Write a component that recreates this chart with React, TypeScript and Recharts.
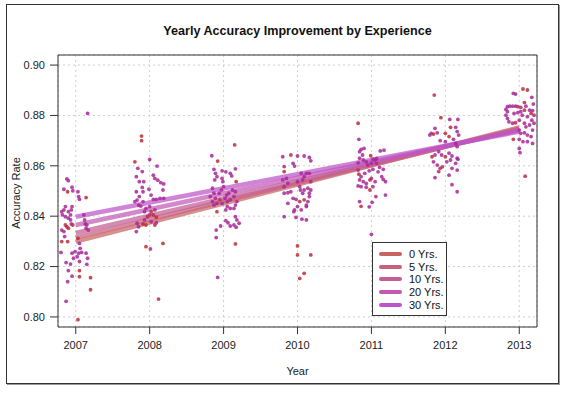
import React from "react";
import {
  CartesianGrid,
  ComposedChart,
  Line,
  ReferenceArea,
  Scatter,
  XAxis,
  YAxis,
} from "recharts";

// years on the x axis
const years = [2007, 2008, 2009, 2010, 2011, 2012, 2013];
const accuracyTicks = [0.8, 0.82, 0.84, 0.86, 0.88, 0.9];

// fitted lines per experience group: accuracy at 2007 and at 2013
const experience = ["0 Yrs.", "5 Yrs.", "10 Yrs.", "20 Yrs.", "30 Yrs."];
const fitStart = [0.8299, 0.8315, 0.8333, 0.8365, 0.8398];
const fitEnd = [0.8752, 0.8748, 0.8745, 0.874, 0.8736];
const lineColors = ["#c86464", "#c85f7c", "#c35e96", "#c25ab4", "#be55c8"];

// observations: [year jitter, accuracy]
const purple2007 = [
  [0.16, 0.8808], [-0.12, 0.8548], [-0.1, 0.8541], [-0.16, 0.8507], [-0.05, 0.8515],
  [-0.04, 0.8501], [0.03, 0.8497], [0.04, 0.8478], [0.05, 0.8467], [-0.14, 0.8438],
  [-0.16, 0.8425], [-0.19, 0.8418], [-0.18, 0.8405], [-0.1, 0.8418], [-0.07, 0.8405],
  [-0.05, 0.8438], [-0.06, 0.8425], [-0.14, 0.8398], [-0.1, 0.8392], [-0.07, 0.8385],
  [-0.12, 0.8358], [-0.19, 0.8345], [-0.16, 0.8339], [-0.06, 0.8369], [0.11, 0.8405],
  [0.12, 0.8385], [0.13, 0.8369], [0.14, 0.8352], [0.15, 0.8365], [0.17, 0.8345],
  [-0.15, 0.8319], [0.05, 0.8292], [0.06, 0.8272], [0.04, 0.8253], [0.02, 0.8239],
  [-0.01, 0.8259], [-0.05, 0.8253], [-0.03, 0.8233], [0.05, 0.822], [0.08, 0.8256],
  [0.14, 0.8253], [0.16, 0.8233], [0.15, 0.8209], [-0.2, 0.8256], [-0.13, 0.8216],
  [-0.07, 0.821], [-0.1, 0.8184], [-0.11, 0.814], [-0.05, 0.8162], [-0.13, 0.8062],
];
const red2007 = [
  [-0.11, 0.8497], [0.14, 0.8474], [-0.14, 0.8365], [-0.1, 0.8352], [-0.04, 0.8365],
  [-0.19, 0.8299], [-0.11, 0.8299], [0.03, 0.8312], [0.05, 0.8184], [0.05, 0.816],
  [0.2, 0.8156], [0.2, 0.8108], [0.03, 0.7989],
];

const purple2008 = [
  [0, 0.8625], [-0.16, 0.859], [-0.1, 0.8577], [0.1, 0.8599], [-0.18, 0.8557],
  [-0.14, 0.8537], [-0.08, 0.8537], [0.05, 0.8563], [0.07, 0.855], [0.11, 0.8543],
  [0.15, 0.8533], [0.19, 0.8528], [0.18, 0.8504], [-0.18, 0.8497], [-0.1, 0.8514],
  [-0.09, 0.8497], [-0.14, 0.8478], [-0.17, 0.8464], [-0.15, 0.8444], [-0.12, 0.844],
  [-0.2, 0.8458], [-0.09, 0.8458], [-0.01, 0.8507], [0.02, 0.8484], [0.05, 0.8467],
  [0.09, 0.8467], [0.14, 0.8471], [0.19, 0.8471], [-0.07, 0.8418], [-0.05, 0.8431],
  [0, 0.8438], [0.07, 0.8425], [0, 0.8405], [-0.17, 0.8372], [-0.15, 0.8358],
  [0.02, 0.8378], [0.09, 0.8374], [-0.18, 0.8339], [-0.07, 0.8385], [0.01, 0.827],
];
const red2008 = [
  [-0.11, 0.8718], [-0.11, 0.87], [-0.2, 0.8616], [0.02, 0.8418], [-0.03, 0.8398],
  [0.05, 0.8405], [0.09, 0.8396], [-0.09, 0.8369], [-0.05, 0.8365], [0.07, 0.8365],
  [-0.05, 0.8279], [0.18, 0.8292], [0.12, 0.8071],
];

const purple2009 = [
  [-0.16, 0.864], [-0.13, 0.8586], [-0.11, 0.857], [-0.09, 0.8557], [-0.12, 0.8544],
  [-0.02, 0.858], [0.03, 0.8576], [0.09, 0.857], [0.11, 0.856], [0.16, 0.8588],
  [-0.02, 0.855], [-0.01, 0.8537], [-0.15, 0.8511], [-0.13, 0.8491], [-0.18, 0.8478],
  [-0.11, 0.8471], [-0.06, 0.8491], [-0.03, 0.8504], [0, 0.8517], [0.04, 0.8484],
  [0.07, 0.8491], [0.12, 0.8504], [0.16, 0.8497], [-0.15, 0.8458], [-0.13, 0.8444],
  [-0.09, 0.8451], [-0.02, 0.8451], [0.02, 0.8471], [0.05, 0.8458], [0.09, 0.8465],
  [0.14, 0.8478], [0.16, 0.8444], [0.18, 0.8458], [0.03, 0.8425], [0.05, 0.8438],
  [0.09, 0.8431], [0.14, 0.8431], [0.16, 0.8398], [0.18, 0.8385], [0.21, 0.8372],
  [0.14, 0.8365], [0.17, 0.8356], [0.09, 0.8361], [0.06, 0.8374], [0.03, 0.8382],
  [-0.04, 0.8361], [-0.1, 0.8345], [-0.1, 0.8315], [-0.08, 0.8157],
];
const red2009 = [
  [0.15, 0.8683], [-0.08, 0.8619], [0.17, 0.8537], [-0.05, 0.8465], [-0.09, 0.8418],
  [0.16, 0.829],
];

const purple2010 = [
  [-0.2, 0.8636], [0, 0.8639], [0.09, 0.8639], [0.16, 0.8633], [0.18, 0.862],
  [-0.06, 0.861], [-0.04, 0.8599], [-0.18, 0.8597], [-0.15, 0.855], [-0.2, 0.8544],
  [-0.13, 0.853], [-0.18, 0.8517], [0.05, 0.857], [0.12, 0.857], [0.16, 0.857],
  [0.09, 0.8557], [0.18, 0.8537], [0.07, 0.8544], [0, 0.8537], [0.03, 0.8517],
  [0.04, 0.8504], [0.07, 0.8491], [0.09, 0.8504], [0.14, 0.8511], [0.16, 0.8491],
  [0.18, 0.8504], [-0.18, 0.8491], [-0.13, 0.8493], [-0.09, 0.8497], [-0.13, 0.8451],
  [-0.06, 0.8471], [-0.02, 0.8467], [0.12, 0.8444], [0.14, 0.8458], [0.16, 0.8478],
  [-0.04, 0.8425], [-0.05, 0.8418], [0.05, 0.8425], [0.12, 0.8438], [0, 0.8438],
  [-0.18, 0.8398], [-0.02, 0.8395], [0.06, 0.8388], [0.12, 0.8385],
];
const red2010 = [
  [-0.09, 0.8643], [-0.18, 0.8577], [0.03, 0.8458], [0.09, 0.8465], [0, 0.8282],
  [0, 0.8246], [0.18, 0.8246], [0.09, 0.8173], [0.03, 0.8153],
];

const purple2011 = [
  [-0.17, 0.8705], [-0.14, 0.8665], [-0.1, 0.8669], [-0.16, 0.8656], [-0.12, 0.8643],
  [-0.16, 0.863], [-0.11, 0.8623], [-0.18, 0.8612], [0.02, 0.8626], [0.05, 0.8623],
  [0.07, 0.8629], [0.12, 0.8659], [0.17, 0.8662], [-0.07, 0.8616], [-0.05, 0.8603],
  [0, 0.861], [0.07, 0.861], [0.11, 0.8594], [0.16, 0.8586], [-0.18, 0.8583],
  [-0.14, 0.8557], [-0.09, 0.857], [-0.03, 0.858], [0.02, 0.8586], [0.09, 0.8576],
  [-0.16, 0.8544], [-0.11, 0.8537], [-0.07, 0.853], [0, 0.855], [0.05, 0.8537],
  [0.14, 0.8557], [0.16, 0.8546], [0.19, 0.8537], [-0.18, 0.852], [-0.14, 0.8517],
  [-0.07, 0.8515], [0.02, 0.8517], [0.06, 0.8478], [0.19, 0.8484], [-0.16, 0.8458],
  [-0.03, 0.8437], [0.01, 0.8455], [0, 0.8328],
];
const red2011 = [
  [-0.18, 0.8769], [-0.01, 0.864], [-0.17, 0.8567], [-0.02, 0.8544], [-0.02, 0.8504],
  [-0.14, 0.8439],
];

const purple2012 = [
  [0.06, 0.8784], [0.17, 0.8784], [-0.14, 0.8749], [-0.19, 0.8729], [-0.11, 0.8731],
  [0.14, 0.8753], [0.16, 0.8736], [0.18, 0.8722], [-0.21, 0.8722], [-0.07, 0.87],
  [0, 0.8696], [0.11, 0.8705], [0.14, 0.8689], [0.16, 0.8676], [-0.14, 0.8643],
  [-0.09, 0.8656], [-0.05, 0.8643], [0.05, 0.865], [0.09, 0.8639], [0.16, 0.863],
  [-0.16, 0.8616], [-0.11, 0.8603], [-0.07, 0.859], [0.02, 0.8616], [0.07, 0.8623],
  [0.14, 0.861], [0.17, 0.8626], [0.09, 0.859], [0.05, 0.8563], [0.16, 0.8583],
  [-0.14, 0.8553], [0.09, 0.8525], [0.16, 0.8497],
];
const red2012 = [
  [-0.15, 0.8881], [-0.06, 0.8791], [-0.16, 0.8726], [0, 0.8729], [0.07, 0.8753],
  [0.05, 0.8716], [-0.18, 0.8636], [0, 0.8636], [-0.04, 0.8596], [-0.09, 0.8577],
];

const purple2013 = [
  [-0.08, 0.8888], [-0.05, 0.8885], [0.17, 0.8872], [0.19, 0.8845], [-0.18, 0.8824],
  [-0.16, 0.8835], [-0.13, 0.8837], [-0.09, 0.8837], [-0.05, 0.8837], [0.02, 0.8832],
  [0.09, 0.8837], [0.14, 0.8821], [0.18, 0.8819], [-0.18, 0.8801], [-0.16, 0.8788],
  [-0.14, 0.8775], [-0.09, 0.8769], [0, 0.8781], [0.04, 0.8801], [0.11, 0.8795],
  [0.2, 0.8801], [-0.16, 0.8815], [-0.07, 0.8808], [-0.02, 0.8811], [0.02, 0.8815],
  [0.07, 0.8769], [0.09, 0.8755], [0.14, 0.8762], [0.17, 0.8781], [0.2, 0.8769],
  [0.18, 0.8742], [0, 0.8742], [0.02, 0.8729], [0.07, 0.8731], [0.11, 0.8722],
  [0.16, 0.8716], [0.18, 0.8689], [0.11, 0.8696], [0.05, 0.8696], [0, 0.8705],
  [0, 0.8669], [0.01, 0.8652],
];
const red2013 = [
  [0.05, 0.8905], [0.11, 0.8901], [0.07, 0.8851], [-0.02, 0.8835], [0.07, 0.8821],
  [-0.05, 0.8771], [0.16, 0.8808], [-0.08, 0.8705], [0.08, 0.8559],
];

const purpleByYear = [purple2007, purple2008, purple2009, purple2010, purple2011, purple2012, purple2013];
const redByYear = [red2007, red2008, red2009, red2010, red2011, red2012, red2013];

const toPoints = (groups: number[][][]) =>
  groups.flatMap((pts, i) => pts.map(([j, acc]) => ({ x: years[i] + j, y: acc })));

const purplePoints = toPoints(purpleByYear);
const redPoints = toPoints(redByYear);

const xDomain = [2006.76, 2013.24];
const yDomain = [0.796, 0.904];

const font = "'Liberation Sans', Arial, sans-serif";

const dot = (color: string) => (props: any) => (
  <circle cx={props.cx} cy={props.cy} r={1.9} fill={color} fillOpacity={0.85} />
);

export default function App() {
  return (
    <div
      style={{
        position: "absolute",
        left: 0,
        top: 0,
        width: 570,
        height: 395,
        background: "#fff",
        fontFamily: font,
      }}
    >
      <div
        style={{
          position: "absolute",
          left: 6,
          top: 4,
          width: 551,
          height: 378,
          border: "1px solid #333",
          boxShadow: "1px 1px 0 #999",
        }}
      />
      <div
        style={{
          position: "absolute",
          left: 58,
          width: 479,
          top: 24,
          textAlign: "center",
          fontSize: 12.6,
          fontWeight: "bold",
          color: "#111",
        }}
      >
        Yearly Accuracy Improvement by Experience
      </div>
      <div
        style={{
          position: "absolute",
          left: 58,
          width: 479,
          top: 365,
          textAlign: "center",
          fontSize: 11,
          color: "#222",
        }}
      >
        Year
      </div>
      <div
        style={{
          position: "absolute",
          left: 16,
          top: 193,
          transform: "translate(-50%, -50%) rotate(-90deg)",
          fontSize: 11,
          color: "#222",
          whiteSpace: "nowrap",
        }}
      >
        Accuracy Rate
      </div>
      <div style={{ position: "absolute", left: 0, top: 0 }}>
        <ComposedChart
          width={570}
          height={395}
          margin={{ top: 55, right: 33, bottom: 38, left: 0 }}
        >
          <CartesianGrid stroke="#cfcfcf" strokeDasharray="2 3" />
          <XAxis
            type="number"
            dataKey="x"
            domain={xDomain}
            ticks={years}
            allowDataOverflow
            height={30}
            axisLine={false}
            tickSize={7}
            tickMargin={7}
            tickLine={{ stroke: "#333" }}
            tick={{ fontSize: 11, fill: "#222", fontFamily: font }}
          />
          <YAxis
            type="number"
            dataKey="y"
            domain={yDomain}
            ticks={accuracyTicks}
            allowDataOverflow
            width={58}
            axisLine={false}
            tickSize={8}
            tickMargin={5}
            tickLine={{ stroke: "#333" }}
            tickFormatter={(v: number) => v.toFixed(2)}
            tick={{ fontSize: 11, fill: "#222", fontFamily: font }}
          />
          <Scatter data={purplePoints} shape={dot("#a82896")} isAnimationActive={false} />
          <Scatter data={redPoints} shape={dot("#bb2f36")} isAnimationActive={false} />
          {experience.map((name, i) => (
            <Line
              key={name}
              name={name}
              data={[
                { x: years[0], y: fitStart[i] },
                { x: years[years.length - 1], y: fitEnd[i] },
              ]}
              dataKey="y"
              stroke={lineColors[i]}
              strokeOpacity={0.72}
              strokeWidth={4.5}
              dot={false}
              activeDot={false}
              isAnimationActive={false}
            />
          ))}
          <ReferenceArea
            x1={xDomain[0]}
            x2={xDomain[1]}
            y1={yDomain[0]}
            y2={yDomain[1]}
            fill="none"
            stroke="#333"
            strokeWidth={1}
            ifOverflow="visible"
          />
        </ComposedChart>
      </div>
      <div
        style={{
          position: "absolute",
          left: 372,
          top: 242,
          width: 75,
          height: 74,
          border: "1px solid #333",
          background: "#fff",
          boxSizing: "border-box",
          paddingTop: 5,
        }}
      >
        {experience.map((name, i) => (
          <div
            key={name}
            style={{ display: "flex", alignItems: "center", height: 12.6, fontSize: 11, color: "#111" }}
          >
            <span
              style={{
                display: "inline-block",
                marginLeft: 6,
                width: 23,
                height: 4,
                borderRadius: 2,
                background: lineColors[i],
              }}
            />
            <span style={{ marginLeft: 7 }}>{name}</span>
          </div>
        ))}
      </div>
    </div>
  );
}
